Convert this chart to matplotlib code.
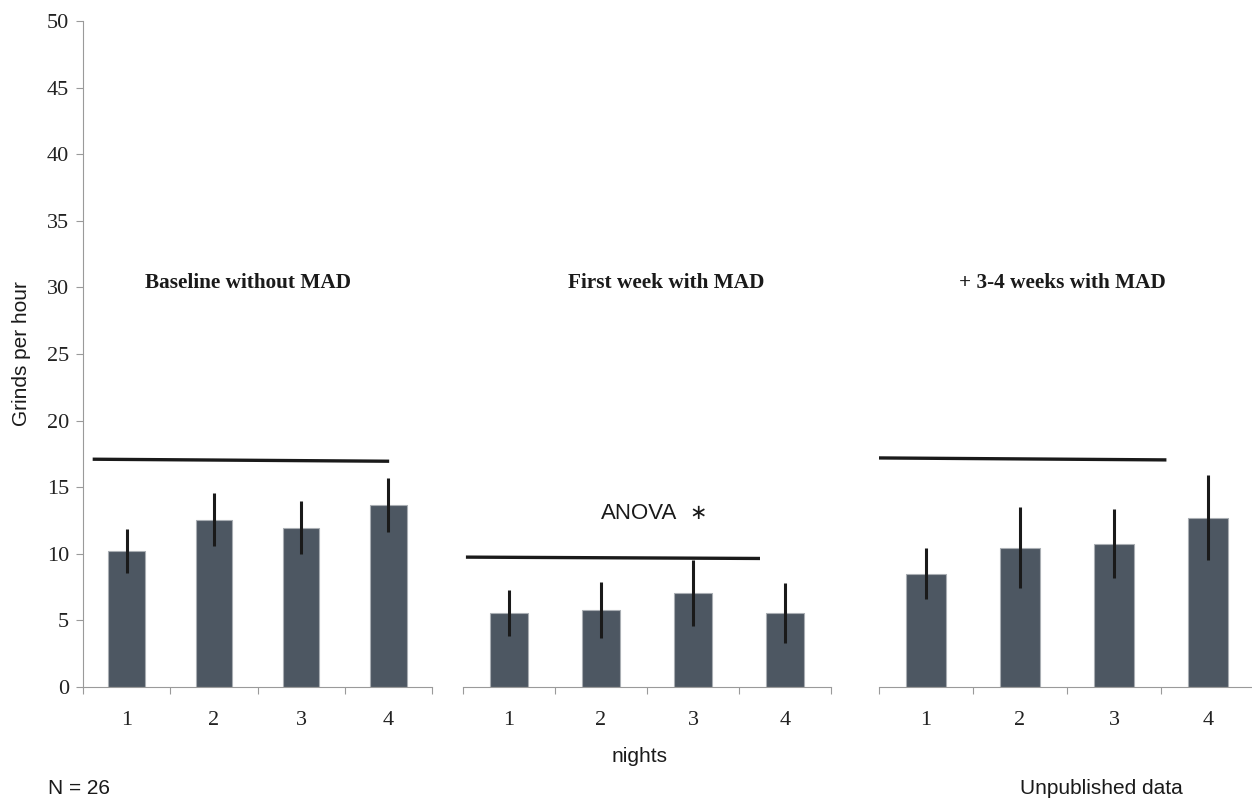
import numpy as np
import matplotlib.pyplot as plt

# data
nights = [1, 2, 3, 4]
group_titles = ['Baseline without MAD', 'First week with MAD', '+ 3-4 weeks with MAD']
baseline_vals = [10.2, 12.55, 11.95, 13.65]
baseline_err = [1.65, 2.0, 2.0, 2.05]
week1_vals = [5.55, 5.75, 7.05, 5.55]
week1_err = [1.75, 2.1, 2.5, 2.25]
week34_vals = [8.5, 10.45, 10.75, 12.7]
week34_err = [1.9, 3.05, 2.6, 3.2]
# horizontal bracket lines (start, end) heights
bracket_y = [(17.1, 16.95), (9.75, 9.65), (17.2, 17.05)]
yticks = np.arange(0, 51, 5)

bar_color = '#4d5762'
axis_grey = '#9a9a9a'
serif = 'Liberation Serif'
sans = 'Liberation Sans'

fig = plt.figure(figsize=(12.52, 7.99), dpi=100)
fig.patch.set_facecolor('white')

bottom, height = 1 - 687 / 799, (687 - 21) / 799
panels = [(83, 349), (463, 368), (879, 376)]
all_vals = [baseline_vals, week1_vals, week34_vals]
all_err = [baseline_err, week1_err, week34_err]
bracket_x = [(0.63, 3.99), (0.55, 3.71), (0.44, 3.54)]
title_x = [2.39, 2.71, 2.45]

axes = []
for k, (left, width) in enumerate(panels):
    ax = fig.add_axes([left / 1252, bottom, width / 1252, height])
    axes.append(ax)
    x = np.array(nights)
    ax.bar(x, all_vals[k], width=0.42, color=bar_color, edgecolor='#a9aeb3',
           linewidth=0.8, zorder=2)
    ax.errorbar(x, all_vals[k], yerr=all_err[k], fmt='none', ecolor='#1a1a1a',
                elinewidth=2.2, capsize=0, zorder=3)
    ax.plot(bracket_x[k], bracket_y[k], color='#1a1a1a', linewidth=2.4, zorder=3)
    ax.set_xlim(0.5, 4.5)
    ax.set_ylim(0, 50)
    for s in ['top', 'right']:
        ax.spines[s].set_visible(False)
    ax.spines['bottom'].set_color(axis_grey)
    ax.spines['left'].set_color(axis_grey)
    # category boundary ticks, labels centred between them
    ax.set_xticks(np.arange(0.5, 4.6, 1.0))
    ax.set_xticklabels([])
    ax.set_xticks(x, minor=True)
    ax.set_xticklabels([str(n) for n in nights], minor=True,
                       fontfamily=serif, fontsize=16, color='#222222')
    ax.tick_params(axis='x', which='major', length=5, color=axis_grey, direction='out')
    ax.tick_params(axis='x', which='minor', length=0, pad=17)
    ax.text(title_x[k], 30.3, group_titles[k], ha='center', va='center',
            fontfamily=serif, fontsize=15.3, fontweight='bold', color='#1a1a1a')
    if k == 0:
        ax.set_yticks(yticks)
        ax.set_yticklabels([str(v) for v in yticks], fontfamily=serif,
                           fontsize=16, color='#222222')
        ax.tick_params(axis='y', length=5, color=axis_grey, pad=5)
    else:
        ax.spines['left'].set_visible(False)
        ax.set_yticks([])

axes[1].text(2.41, 13.05, 'ANOVA', ha='center', va='center', fontfamily=sans,
             fontsize=16, color='#1a1a1a')
axes[1].text(3.06, 13.05, '∗', ha='center', va='center', fontfamily='DejaVu Sans',
             fontsize=15, color='#1a1a1a')

fig.text(22 / 1252, 1 - 354 / 799, 'Grinds per hour', rotation=90, ha='center',
         va='center', fontfamily=sans, fontsize=15, color='#1a1a1a')
fig.text(640 / 1252, 1 - 757 / 799, 'nights', ha='center', va='center',
         fontfamily=sans, fontsize=15, color='#1a1a1a')
fig.text(48 / 1252, 1 - 788 / 799, 'N = 26', ha='left', va='center',
         fontfamily=sans, fontsize=15, color='#1a1a1a')
fig.text(1183 / 1252, 1 - 788 / 799, 'Unpublished data', ha='right', va='center',
         fontfamily=sans, fontsize=15, color='#1a1a1a')

plt.savefig('out.png', dpi=100)
